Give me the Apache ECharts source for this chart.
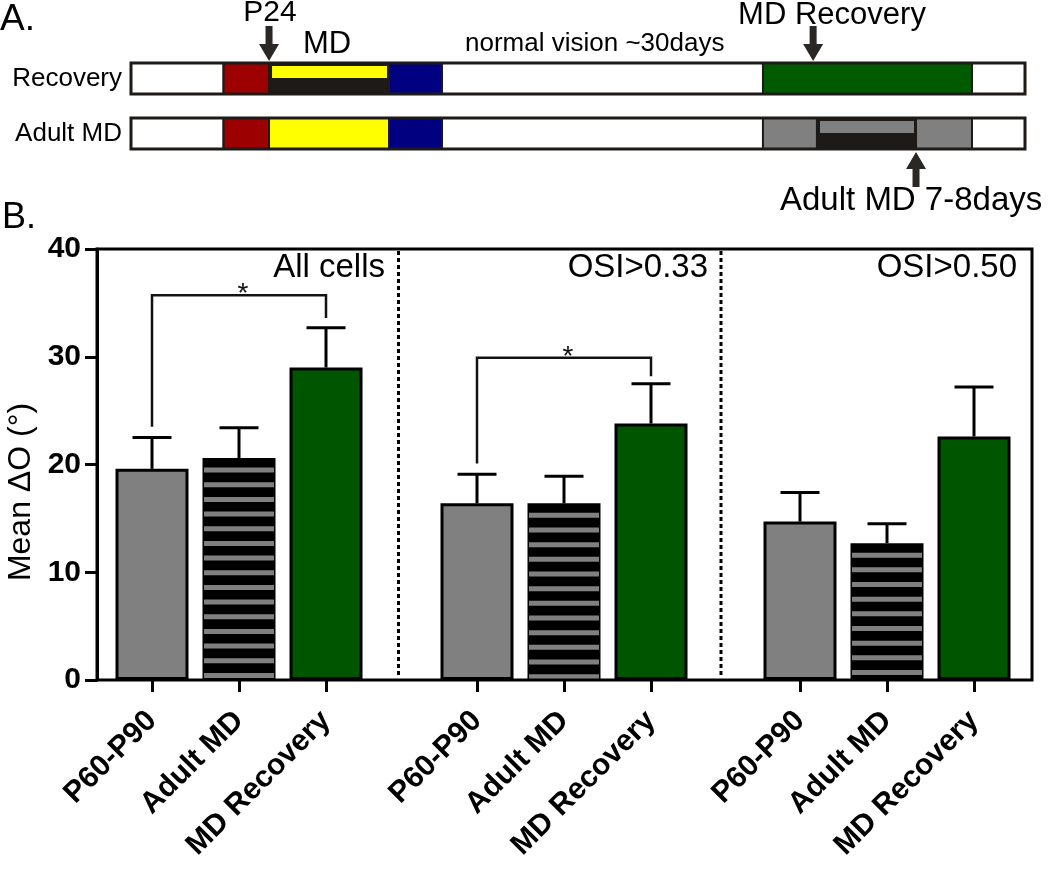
<!DOCTYPE html>
<html><head><meta charset="utf-8">
<script src="https://cdn.jsdelivr.net/npm/echarts@6/dist/echarts.min.js"></script>
<style>html,body{margin:0;padding:0;background:#fff}#c{width:1050px;height:877px}</style>
</head><body><div id="c"></div>
<script>
// ---------------- data ----------------
const categories = ['P60-P90', 'Adult MD', 'MD Recovery'];
const panelNames = ['All cells', 'OSI>0.33', 'OSI>0.50'];
const yTicks = [0, 10, 20, 30, 40];

const meanAllCells = [19.6, 20.6, 29.0];
const semAllCells  = [2.9, 2.8, 3.7];
const meanOSI033   = [16.4, 16.4, 23.8];
const semOSI033    = [2.7, 2.5, 3.7];
const meanOSI050   = [14.7, 12.7, 22.6];
const semOSI050    = [2.7, 1.8, 4.6];

// significance brackets: [category index, value] path
const sigAllCells = [[0, 23.5], [0, 35.7], [2, 35.7], [2, 33.6]];
const sigOSI033   = [[0, 20.1], [0, 29.9], [2, 29.9], [2, 28.2]];
const sigOSI050   = [];

// timeline schematic (panel A), positions in % of the timeline bar
const timelineRows = ['Recovery', 'Adult MD'];
const recoveryTimeline = [[0, 10.35, 'blank'], [10.35, 15.44, 'preMD'], [15.44, 28.86, 'monocularMD'],
  [28.86, 34.79, 'postCP'], [34.79, 70.69, 'blank'], [70.69, 94.07, 'recovery'], [94.07, 100, 'blank']];
const adultTimeline = [[0, 10.35, 'blank'], [10.35, 15.44, 'preMD'], [15.44, 28.86, 'critical'],
  [28.86, 34.79, 'postCP'], [34.79, 70.69, 'blank'], [70.69, 76.73, 'adult'], [76.73, 87.81, 'adultMD'],
  [87.81, 94.07, 'adult'], [94.07, 100, 'blank']];
const timelineArrows = [[15.44, 0, 'down'], [76.3, 0, 'down'], [87.81, 1, 'up']];

// ---------------- styles ----------------
const FONT = "'Liberation Sans', Arial, Helvetica, sans-serif";
const INK = '#1e1a17';
const barColors = ['#808080', '#000000', '#005500'];
const phaseStyle = {
  blank: { fill: '#ffffff' },
  preMD: { fill: '#9c0000' },
  critical: { fill: '#ffff00' },
  monocularMD: { top: '#ffff00', bottom: INK },
  postCP: { fill: '#000080' },
  recovery: { fill: '#005a00' },
  adult: { fill: '#808080' },
  adultMD: { top: '#808080', bottom: INK }
};

const means = [meanAllCells, meanOSI033, meanOSI050];
const sems = [semAllCells, semOSI033, semOSI050];
const sigs = [sigAllCells, sigOSI033, sigOSI050];
const groupLefts = [108.5, 433.5, 756.5];
const PLOT_TOP = 249, PLOT_H = 431;

const grids = [{ left: 97, top: PLOT_TOP, width: 935, height: PLOT_H, show: true, borderColor: '#000', borderWidth: 3, backgroundColor: 'transparent' }];
const xAxes = [{ gridIndex: 0, type: 'value', min: 0, max: 1, show: false }];
const yAxes = [{
  gridIndex: 0, type: 'value', min: 0, max: 40, interval: 10,
  axisLine: { show: true, lineStyle: { color: '#000', width: 3 } },
  axisTick: { show: true, length: 12, lineStyle: { color: '#000', width: 3 } },
  axisLabel: { fontFamily: FONT, fontWeight: 'bold', fontSize: 30, color: '#000', margin: 16,
    formatter: v => yTicks.includes(v) ? String(v) : '' },
  splitLine: { show: false }
}];
const series = [];

groupLefts.forEach((left, i) => {
  grids.push({ left: left, top: PLOT_TOP, width: 261, height: PLOT_H });
  xAxes.push({
    gridIndex: i + 1, type: 'category', data: categories,
    axisLine: { show: false },
    axisTick: { show: true, alignWithLabel: true, length: 12, lineStyle: { color: '#000', width: 3 } },
    axisLabel: { interval: 0, rotate: 45, fontFamily: FONT, fontWeight: 'bold', fontSize: 30, color: '#000', margin: 36 }
  });
  yAxes.push({ gridIndex: i + 1, type: 'value', min: 0, max: 40, show: false });
  const ax = { xAxisIndex: i + 1, yAxisIndex: i + 1 };
  series.push(Object.assign({
    type: 'bar', barWidth: 73, z: 2,
    itemStyle: { borderColor: '#000', borderWidth: 3 },
    data: means[i].map((v, j) => ({ value: v, itemStyle: { color: barColors[j] } }))
  }, ax));
  // stripes on the Adult MD bar
  series.push(Object.assign({
    type: 'custom', z: 3,
    data: [[1, means[i][1]]],
    renderItem: (params, api) => {
      const top = api.coord([api.value(0), api.value(1)]);
      const bot = api.coord([api.value(0), 0]);
      const w = 70, children = [];
      for (let y = top[1] + 9.5; y < bot[1] - 2; y += 14.67) {
        children.push({ type: 'rect', shape: { x: top[0] - w / 2, y: y, width: w, height: Math.min(5, bot[1] - 1.5 - y) }, style: { fill: '#808080' } });
      }
      return { type: 'group', children };
    }
  }, ax));
  // error bars
  series.push(Object.assign({
    type: 'custom', z: 4,
    data: means[i].map((m, j) => [j, m, m + sems[i][j]]),
    renderItem: (params, api) => {
      const p0 = api.coord([api.value(0), api.value(1)]);
      const p1 = api.coord([api.value(0), api.value(2)]);
      return { type: 'group', children: [
        { type: 'line', shape: { x1: p0[0], y1: p0[1], x2: p1[0], y2: p1[1] }, style: { stroke: '#000', lineWidth: 3 } },
        { type: 'line', shape: { x1: p1[0] - 19.5, y1: p1[1], x2: p1[0] + 19.5, y2: p1[1] }, style: { stroke: '#000', lineWidth: 3 } }
      ] };
    }
  }, ax));
  // significance bracket + asterisk
  if (sigs[i].length) {
    const path = sigs[i];
    series.push(Object.assign({
      type: 'custom', z: 5,
      data: [path[1]],
      renderItem: (params, api) => {
        const pts = path.map(p => api.coord([p[0], p[1]]));
        const mid = api.coord([1, path[1][1]]);
        return { type: 'group', children: [
          { type: 'polyline', shape: { points: pts }, style: { stroke: '#141210', lineWidth: 2.5, fill: null } },
          { type: 'text', x: mid[0] + 4, y: mid[1] - 1, style: { text: '*', fontFamily: FONT, fontSize: 28, fill: '#141210', align: 'center', verticalAlign: 'middle' } }
        ] };
      }
    }, ax));
  }
});

// timeline grid (panel A)
grids.push({ left: 131, top: 51, width: 894, height: 110 });
xAxes.push({ gridIndex: 4, type: 'value', min: 0, max: 100, show: false });
yAxes.push({ gridIndex: 4, type: 'category', data: timelineRows, inverse: true,
  axisLine: { show: false }, axisTick: { show: false }, splitLine: { show: false },
  axisLabel: { fontFamily: FONT, fontSize: 26, color: '#000', margin: 9 } });
const tlAx = { xAxisIndex: 4, yAxisIndex: 4 };
const timelineData = [];
[recoveryTimeline, adultTimeline].forEach((row, r) => row.forEach(s => timelineData.push([s[0], s[1], r, s[2]])));
const ROW_H = 31;
series.push(Object.assign({
  type: 'custom', z: 2, data: timelineData.map(d => [d[0], d[1], d[2]]),
  renderItem: (params, api) => {
    const seg = timelineData[params.dataIndex];
    const a = api.coord([api.value(0), api.value(2)]);
    const b = api.coord([api.value(1), api.value(2)]);
    const y0 = a[1] - ROW_H / 2, w = b[0] - a[0];
    const st = phaseStyle[seg[3]];
    if (st.fill) {
      return { type: 'rect', shape: { x: a[0], y: y0, width: w, height: ROW_H }, style: { fill: st.fill, stroke: INK, lineWidth: 2 } };
    }
    return { type: 'group', children: [
      { type: 'rect', shape: { x: a[0], y: y0, width: w, height: ROW_H }, style: { fill: st.bottom, stroke: INK, lineWidth: 2 } },
      { type: 'rect', shape: { x: a[0] + 2.5, y: y0 + 2.5, width: w - 4, height: 13 }, style: { fill: st.top, stroke: INK, lineWidth: 1 } }
    ] };
  }
}, tlAx));
series.push(Object.assign({
  type: 'custom', z: 3, data: timelineRows.map((r, i) => [0, 100, i]),
  renderItem: (params, api) => {
    const a = api.coord([api.value(0), api.value(2)]);
    const b = api.coord([api.value(1), api.value(2)]);
    return { type: 'rect', shape: { x: a[0], y: a[1] - ROW_H / 2, width: b[0] - a[0], height: ROW_H }, style: { fill: 'none', stroke: INK, lineWidth: 3 } };
  }
}, tlAx));
series.push(Object.assign({
  type: 'custom', z: 4, data: timelineArrows.map(a => [a[0], a[1]]),
  renderItem: (params, api) => {
    const dirDown = timelineArrows[params.dataIndex][2] === 'down';
    const p = api.coord([api.value(0), api.value(1)]);
    const d = dirDown ? 1 : -1;
    const tip = dirDown ? p[1] - ROW_H / 2 - 2 : p[1] + ROW_H / 2 + 3;
    const base = tip - d * 17, tail = tip - d * 35, x = p[0];
    return { type: 'polygon', shape: { points: [[x, tip], [x - 10, base], [x - 3.5, base], [x - 3.5, tail], [x + 3.5, tail], [x + 3.5, base], [x + 10, base]] }, style: { fill: '#2b2724' } };
  }
}, tlAx));

function txt(text, x, y, size, align, extra) {
  return Object.assign({ type: 'text', x: x, y: y, z: 10,
    style: { text: text, fontFamily: FONT, fontSize: size, fill: '#000', align: align || 'left', verticalAlign: 'middle' } }, extra || {});
}
const graphics = [
  txt('A.', 0, 20, 37),
  txt('P24', 270, 13, 30, 'center'),
  txt('MD', 327, 44, 31, 'center'),
  txt('normal vision ~30days', 465, 44, 26),
  txt('MD Recovery', 832, 15, 31, 'center'),
  txt('Adult MD 7-8days', 780, 201, 33),
  txt('B.', 2, 218, 36),
  txt('Mean \u0394O (\u00b0)', 21, 492, 32, 'center', { rotation: Math.PI / 2 }),
  txt(panelNames[0], 385, 268, 33, 'right'),
  txt(panelNames[1], 708, 268, 33, 'right'),
  txt(panelNames[2], 1017, 268, 33, 'right'),
  { type: 'line', z: 1, shape: { x1: 398.5, y1: 251, x2: 398.5, y2: 678 }, style: { stroke: '#000', lineWidth: 3, lineDash: [4, 3] } },
  { type: 'line', z: 1, shape: { x1: 721, y1: 251, x2: 721, y2: 678 }, style: { stroke: '#000', lineWidth: 3, lineDash: [4, 3] } }
];

const chart = echarts.init(document.getElementById('c'), null, { renderer: 'canvas' });
chart.setOption({
  animation: false,
  backgroundColor: '#fff',
  grid: grids, xAxis: xAxes, yAxis: yAxes, series: series, graphic: graphics
});
</script></body></html>
